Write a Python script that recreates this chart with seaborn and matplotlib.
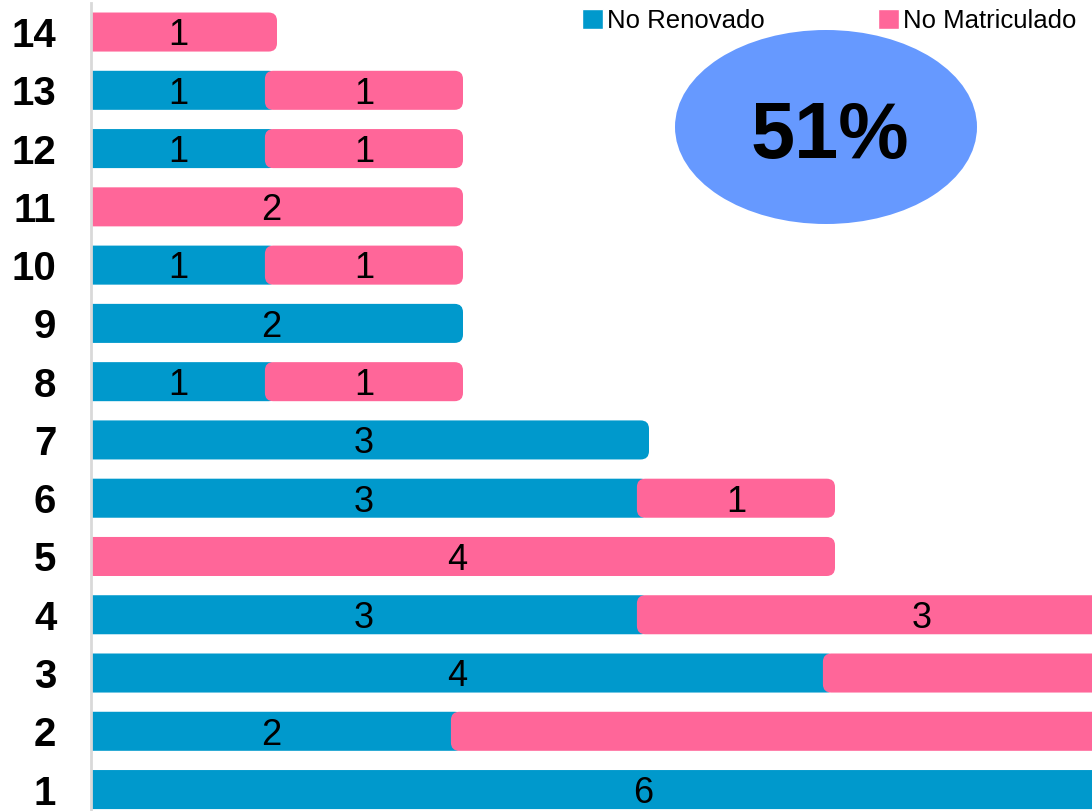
import matplotlib.pyplot as plt
import seaborn as sns
import pandas as pd
from matplotlib.patches import FancyBboxPatch, Ellipse, Patch

# datos (de arriba hacia abajo)
categorias = ['14', '13', '12', '11', '10', '9', '8', '7', '6', '5', '4', '3', '2', '1']
no_renovado = [0, 1, 1, 0, 1, 2, 1, 3, 3, 0, 3, 4, 2, 6]
no_matriculado = [1, 1, 1, 2, 1, 0, 1, 0, 1, 4, 3, 3, 7, 0]
porcentaje = '51%'

AZUL = '#0099CC'
ROSA = '#FF6699'
ELIPSE = '#6699FF'

sns.set_style('white')
plt.rcParams['font.family'] = ['Liberation Sans', 'DejaVu Sans']
plt.rcParams['text.color'] = 'black'

df = pd.DataFrame({'cat': categorias,
                   'No Renovado': no_renovado,
                   'No Matriculado': no_matriculado})

fig = plt.figure(figsize=(10.92, 8.11), dpi=100)
ax = fig.add_axes([91 / 1092, -7.7 / 811, 1001 / 1092, 815.8 / 811])

sns.barplot(data=df, x='No Renovado', y='cat', order=categorias, orient='h',
            color=AZUL, saturation=1, width=0.67, errorbar=None, ax=ax)
sns.barplot(data=df, x='No Matriculado', y='cat', order=categorias, orient='h',
            color=ROSA, saturation=1, width=0.67, errorbar=None, ax=ax)

XMAX = 1001 / 186
ax.set_xlim(0, XMAX)

# barras redondeadas y apiladas
EXT = 0.065          # solape hacia la izquierda
RADIO = 0.045
ASPECTO = 186 / 58.27
series = [(ax.containers[0], [0] * len(categorias), AZUL),
          (ax.containers[1], no_renovado, ROSA)]
for cont, lefts, color in series:
    for bar, left in zip(cont, lefts):
        bar.remove()
        w = bar.get_width()
        if w == 0:
            continue
        y, h = bar.get_y(), bar.get_height()
        x0 = left - EXT
        ax.add_patch(FancyBboxPatch((x0, y), w + EXT, h,
                                    boxstyle=f'round,pad=0,rounding_size={RADIO}',
                                    mutation_aspect=ASPECTO, fc=color, ec='none'))
        xc = x0 + (w + EXT) / 2
        if xc < XMAX:   # la etiqueta queda fuera del recorte
            ax.annotate(str(int(w)), xy=(xc, y + h / 2),
                        xytext=(0, -9.6), textcoords='offset points',
                        ha='center', va='baseline', fontsize=26, color='black')

ax.set_ylim(13.5, -0.5)
ax.set_xticks([])
ax.set_xlabel('')
ax.set_ylabel('')
ax.tick_params(axis='y', length=0, pad=25, labelsize=29)
plt.setp(ax.get_yticklabels(), fontweight='bold', color='black')
for s in ['top', 'right', 'bottom']:
    ax.spines[s].set_visible(False)
ax.spines['left'].set_color('#d9d9d9')
ax.spines['left'].set_linewidth(2)

# elipse con porcentaje
fig.add_artist(Ellipse((826 / 1092, 1 - 127 / 811), 302 / 1092, 194 / 811,
                       transform=fig.transFigure, fc=ELIPSE, ec='none'))
fig.text(830 / 1092, 1 - 158 / 811, porcentaje, ha='center', va='baseline',
         fontsize=57, fontweight='bold', color='black')

handles = [Patch(fc=AZUL, label='No Renovado'), Patch(fc=ROSA, label='No Matriculado')]
fig.legend(handles=handles, loc='center left', bbox_to_anchor=(582 / 1092, 1 - 21 / 811),
           ncol=2, frameon=False, fontsize=18.5, handlelength=0.82, handleheight=0.82,
           handletextpad=0.15, columnspacing=4.4, borderpad=0, borderaxespad=0,
           labelcolor='black')

fig.savefig('out.png', dpi=100)
